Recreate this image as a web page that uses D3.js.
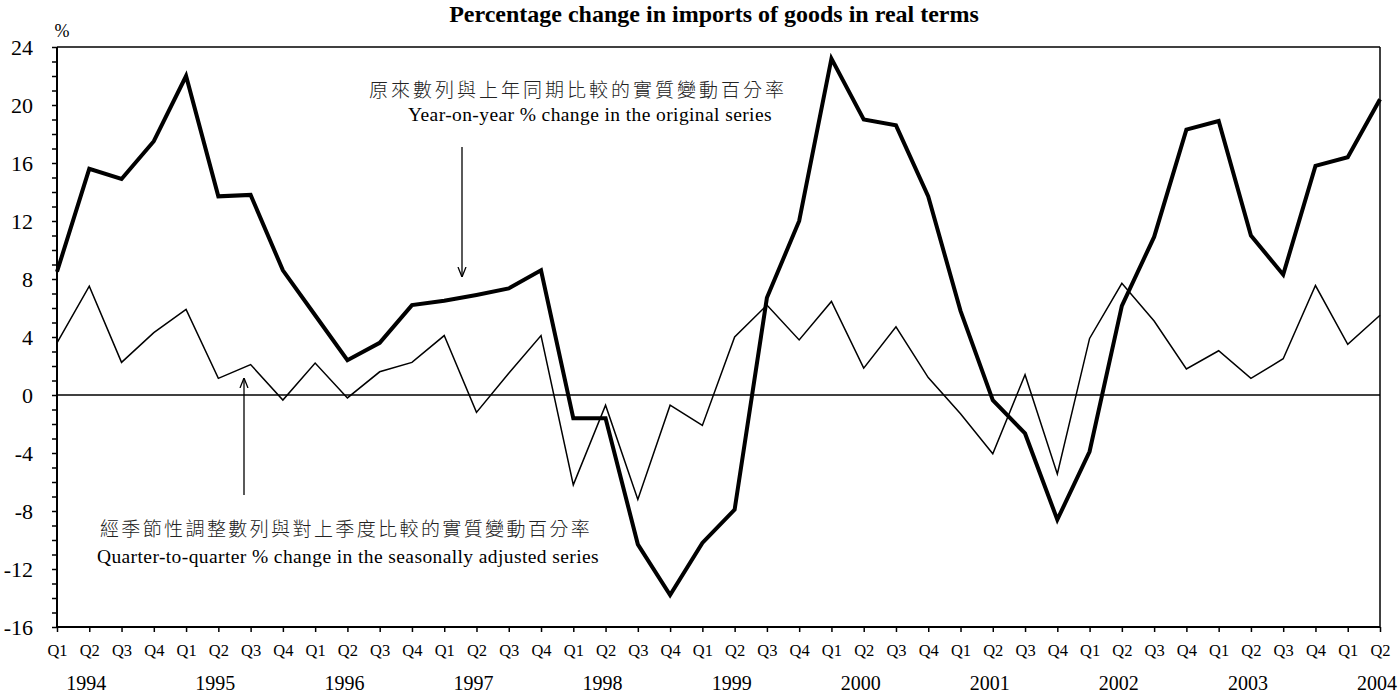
<!DOCTYPE html>
<html>
<head>
<meta charset="utf-8">
<script src="https://cdn.jsdelivr.net/npm/d3@7"></script>
<style>
  body { margin: 0; background: #fff; }
  svg text { font-family: "Liberation Serif", "Times New Roman", serif; }
  .cjk { font-family: "Noto Sans CJK TC", "Noto Sans CJK SC", sans-serif !important; font-weight: 300; }
</style>
</head>
<body>
<div id="chart"></div>
<script>
// Chart size
const width = 1399, height = 693;

// Quarter labels, Q1 1994 .. Q2 2004
const quarters = [
  "Q1","Q2","Q3","Q4", "Q1","Q2","Q3","Q4", "Q1","Q2","Q3","Q4",
  "Q1","Q2","Q3","Q4", "Q1","Q2","Q3","Q4", "Q1","Q2","Q3","Q4",
  "Q1","Q2","Q3","Q4", "Q1","Q2","Q3","Q4", "Q1","Q2","Q3","Q4",
  "Q1","Q2","Q3","Q4", "Q1","Q2"
];
const years = ["1994","1995","1996","1997","1998","1999","2000","2001","2002","2003","2004"];

// Year-on-year % change in the original series (thick line)
const yoyValues = [
  8.5, 15.6, 14.9, 17.5,
  22.0, 13.7, 13.8, 8.6,
  5.5, 2.4, 3.6, 6.2,
  6.5, 6.9, 7.35, 8.6,
  -1.6, -1.6, -10.3, -13.8,
  -10.2, -7.9, 6.7, 12.0,
  23.2, 19.0, 18.6, 13.7,
  5.8, -0.35, -2.65, -8.6,
  -3.9, 6.15, 10.9, 18.3,
  18.9, 11.0, 8.3, 15.8,
  16.4, 20.4
];

// Quarter-to-quarter % change in the seasonally adjusted series (thin line)
const qoqValues = [
  3.6, 7.5, 2.25, 4.3,
  5.9, 1.15, 2.1, -0.35,
  2.2, -0.2, 1.6, 2.25,
  4.1, -1.2, 1.5, 4.1,
  -6.2, -0.7, -7.2, -0.7,
  -2.1, 4.0, 6.2, 3.8,
  6.45, 1.85, 4.7, 1.2,
  -1.3, -4.05, 1.4, -5.45,
  3.9, 7.7, 5.1, 1.8,
  3.05, 1.15, 2.5, 7.55,
  3.5, 5.5
];

const yTicks = [-16, -12, -8, -4, 0, 4, 8, 12, 16, 20, 24];

const svg = d3.select("#chart").append("svg")
  .attr("width", width)
  .attr("height", height);

// Plot area bounds
const plotLeft = 57, plotRight = 1380, plotTop = 47, plotBottom = 627;

const x = d3.scalePoint()
  .domain(d3.range(quarters.length))
  .range([plotLeft, plotRight]);

const y = d3.scaleLinear()
  .domain([-16, 24])
  .range([plotBottom, plotTop]);

// Title
svg.append("text")
  .attr("x", 714)
  .attr("y", 22)
  .attr("text-anchor", "middle")
  .style("font-size", "24px")
  .style("font-weight", "bold")
  .text("Percentage change in imports of goods in real terms");

// Unit label
svg.append("text")
  .attr("x", 62)
  .attr("y", 37)
  .attr("text-anchor", "middle")
  .style("font-size", "18px")
  .text("%");

// Frame: top and right edges
svg.append("line")
  .attr("x1", plotLeft).attr("x2", plotRight)
  .attr("y1", plotTop).attr("y2", plotTop)
  .attr("stroke", "#000").attr("stroke-width", 1.5);
svg.append("line")
  .attr("x1", plotRight).attr("x2", plotRight)
  .attr("y1", plotTop).attr("y2", plotBottom)
  .attr("stroke", "#000").attr("stroke-width", 1.5);

// Zero line
svg.append("line")
  .attr("x1", plotLeft).attr("x2", plotRight)
  .attr("y1", y(0)).attr("y2", y(0))
  .attr("stroke", "#000").attr("stroke-width", 1.5);

// Y axis: ticks at every unit, labels every 4
const yAxis = svg.append("g")
  .attr("transform", `translate(${plotLeft},0)`)
  .call(d3.axisLeft(y)
    .tickValues(d3.range(-16, 25, 1))
    .tickSize(5)
    .tickPadding(19)
    .tickFormat(d => yTicks.includes(d) ? d : ""));
yAxis.select(".domain").attr("stroke-width", 2).attr("d", `M0,${plotTop}V${plotBottom}`);
yAxis.selectAll(".tick line").attr("stroke-width", 1.5);
yAxis.selectAll("text")
  .style("font-size", "22px")
  .style("font-family", "'Liberation Serif', serif")
  .attr("fill", "#000");

// X axis: quarter ticks
const xAxis = svg.append("g")
  .attr("transform", `translate(0,${plotBottom})`)
  .call(d3.axisBottom(x)
    .tickSize(5)
    .tickPadding(12)
    .tickFormat(i => quarters[i]));
xAxis.select(".domain").attr("stroke-width", 2).attr("d", `M${plotLeft},0H${plotRight}`);
xAxis.selectAll(".tick line").attr("stroke-width", 1.5);
xAxis.selectAll("text")
  .style("font-size", "16.5px")
  .style("font-family", "'Liberation Serif', serif")
  .attr("fill", "#000");

// Year labels under the Q2 tick of each year
svg.append("g")
  .selectAll("text")
  .data(years)
  .enter()
  .append("text")
  .attr("x", (d, i) => Math.min(x(i * 4 + 1) - 3, width - 22))
  .attr("y", 690)
  .attr("text-anchor", "middle")
  .style("font-size", "20px")
  .text(d => d);

// Lines
const line = d3.line()
  .x((d, i) => x(i))
  .y(d => y(d));

svg.append("path")
  .datum(qoqValues)
  .attr("fill", "none")
  .attr("stroke", "#000")
  .attr("stroke-width", 1.5)
  .attr("stroke-linejoin", "miter")
  .attr("d", line);

svg.append("path")
  .datum(yoyValues)
  .attr("fill", "none")
  .attr("stroke", "#000")
  .attr("stroke-width", 4)
  .attr("stroke-linejoin", "miter")
  .attr("d", line);

// Arrow marker
svg.append("defs").append("marker")
  .attr("id", "arrow")
  .attr("viewBox", "0 0 10 10")
  .attr("refX", 10).attr("refY", 5)
  .attr("markerWidth", 10).attr("markerHeight", 10)
  .attr("markerUnits", "userSpaceOnUse")
  .attr("orient", "auto")
  .append("path")
  .attr("d", "M0,1 L10,5 L0,9")
  .attr("fill", "none")
  .attr("stroke", "#000")
  .attr("stroke-width", 1.3);

// Annotation: year-on-year
svg.append("text")
  .attr("class", "cjk")
  .attr("x", 578).attr("y", 97)
  .attr("text-anchor", "middle")
  .style("font-size", "19px")
  .style("letter-spacing", "3px")
  .attr("fill", "#222")
  .text("原來數列與上年同期比較的實質變動百分率");
svg.append("text")
  .attr("x", 590).attr("y", 121)
  .attr("text-anchor", "middle")
  .style("font-size", "19.5px")
  .style("letter-spacing", "0.4px")
  .text("Year-on-year % change in the original series");
svg.append("line")
  .attr("x1", 462).attr("y1", 147)
  .attr("x2", 462).attr("y2", 277)
  .attr("stroke", "#000").attr("stroke-width", 1.3)
  .attr("marker-end", "url(#arrow)");

// Annotation: quarter-to-quarter
svg.append("text")
  .attr("class", "cjk")
  .attr("x", 346).attr("y", 536)
  .attr("text-anchor", "middle")
  .style("font-size", "19px")
  .style("letter-spacing", "2.4px")
  .attr("fill", "#222")
  .text("經季節性調整數列與對上季度比較的實質變動百分率");
svg.append("text")
  .attr("x", 348).attr("y", 563)
  .attr("text-anchor", "middle")
  .style("font-size", "19.5px")
  .style("letter-spacing", "0.4px")
  .text("Quarter-to-quarter % change in the seasonally adjusted series");
svg.append("line")
  .attr("x1", 244).attr("y1", 495)
  .attr("x2", 244).attr("y2", 378)
  .attr("stroke", "#000").attr("stroke-width", 1.3)
  .attr("marker-end", "url(#arrow)");
</script>
</body>
</html>
